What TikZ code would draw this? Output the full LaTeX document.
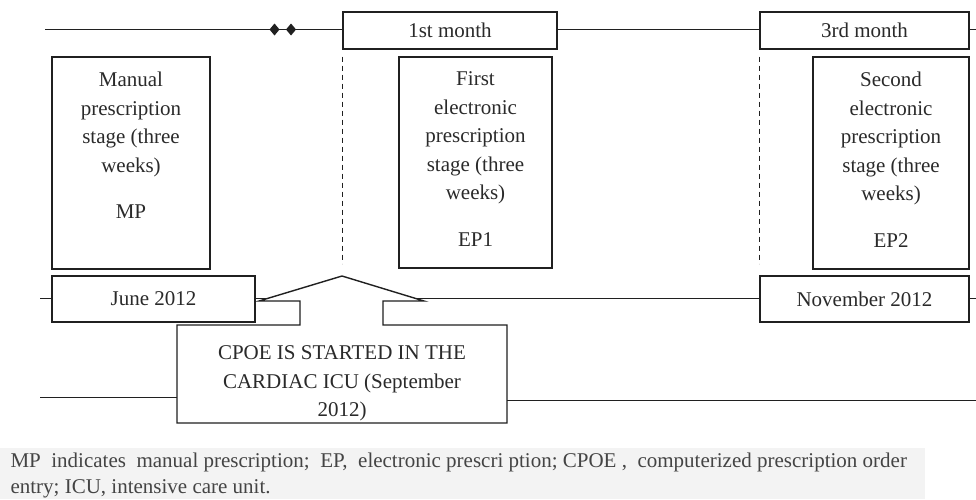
\documentclass[tikz,border=0pt]{standalone}
\usepackage{fontspec}
\setmainfont{Liberation Serif}
\usepackage{tikz}
\definecolor{tlink}{HTML}{202020}
\definecolor{tltext}{HTML}{2A2A2A}
\definecolor{tlgrey}{HTML}{444444}
\definecolor{tlnote}{HTML}{F3F3F3}
\newcommand{\stagetext}[3]{\parbox[c][#1][t]{#2}{\centering\vspace*{15pt}#3}}

\begin{document}
\begin{tikzpicture}[x=1pt,y=1pt,
  every node/.style={font=\fontsize{21}{28.5}\selectfont,text=tltext},
  stagebox/.style={draw=tlink,line width=1.4pt,inner sep=0pt},
  monthbox/.style={draw=tlink,line width=1.4pt,fill=white,inner sep=0pt,minimum height=37pt},
  datebox/.style={monthbox,minimum height=46pt},
  tline/.style={draw=tlink,line width=1.4pt},
  stagedash/.style={draw=tlink,line width=1.3pt,dash pattern=on 5pt off 4pt}]
  \useasboundingbox (0,0) rectangle (976,-499);
  % month markers on the upper line
  \node[monthbox,minimum width=214pt] (m1) at (450,-30.5) {1st month};
  \node[monthbox,minimum width=209pt] (m3) at (864.5,-30.5) {3rd month};
  \coordinate (topstart) at (45,-29.5);
  \coordinate (topend) at (976,-29.5);
  \draw[tline] (topstart) -- (topstart -| m1.west) (m1.east |- topstart) -- (topstart -| m3.west) (m3.east |- topstart) -- (topend);
  \foreach \dx in {274.5,291}{\fill[tlink] (\dx-5,-29.5) -- (\dx,-23.5) -- (\dx+5,-29.5) -- (\dx,-35.5) -- cycle;}
  \draw[stagedash] ([yshift=-7pt]m1.south west) -- ++(0,-207);
  \draw[stagedash] ([yshift=-7pt]m3.south west) -- ++(0,-207);
  % the three stages
  \node[stagebox] (mp) at (131,-163) {\stagetext{212pt}{158pt}{Manual\\prescription\\stage (three\\weeks)\\[18pt]MP}};
  \node[stagebox] (ep1) at (475.5,-162.5) {\stagetext{211pt}{153pt}{First\\electronic\\prescription\\stage (three\\weeks)\\[18pt]EP1}};
  \node[stagebox] (ep2) at (891,-163) {\stagetext{212pt}{156pt}{Second\\electronic\\prescription\\stage (three\\weeks)\\[18pt]EP2}};
  % dates
  \node[datebox,minimum width=203pt] (june) at (153.5,-299) {June 2012};
  \node[datebox,minimum width=209pt] (nov) at (864.5,-299) {November 2012};
  \coordinate (midstart) at (40,-298.5);
  \coordinate (midend) at (976,-298.5);
  \draw[tline] (midstart) -- (midstart -| june.west) (june.east |- midstart) -- (midstart -| nov.west) (nov.east |- midstart) -- (midend);
  % callout
  \coordinate (cnw) at (177,-325);
  \coordinate (cse) at (507,-423);
  \draw[tline,fill=white] (cnw) -- (300,-325) -- (300,-301) -- (259,-301) -- (342,-276) -- (424,-301)
    -- (383,-301) -- (383,-325) -- (cse |- cnw) -- (cse) -- (cnw |- cse) -- cycle;
  \node[align=center] (cpoe) at (342,-383.5) {CPOE IS STARTED IN THE\\CARDIAC ICU (September\\2012)};
  \coordinate (botstart) at (40,-397.5);
  \coordinate (botend) at (976,-400.5);
  \draw[tline] (botstart) -- (botstart -| cnw) (cse |- botend) -- (botend);
  % note
  \fill[tlnote] (0,-448) rectangle (925,-499);
  \node[anchor=north west,align=left,text=tlgrey,font=\fontsize{21}{26}\selectfont] (note) at (7,-449)
    {MP\ \ indicates\ \ manual prescription;\ \ EP,\ \ electronic prescri ption; CPOE ,\ \ computerized prescription order\\
     entry; ICU, intensive care unit.};
\end{tikzpicture}
\end{document}
